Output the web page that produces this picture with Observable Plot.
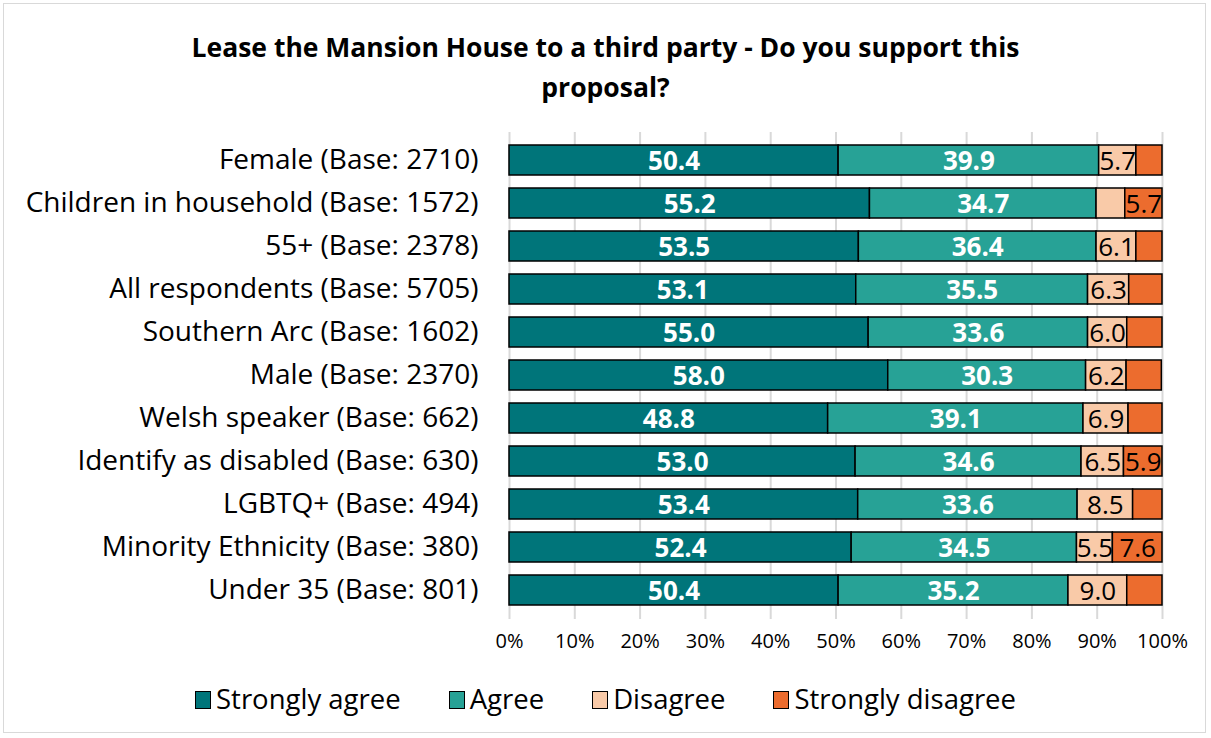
<!DOCTYPE html>
<html><head><meta charset="utf-8">
<script src="https://cdn.jsdelivr.net/npm/d3@7"></script>
<script src="https://cdn.jsdelivr.net/npm/@observablehq/plot@0.6"></script>
<style>
body{margin:0;background:#fff;font-family:"Open Sans",sans-serif;}
#frame{position:absolute;left:3px;top:3px;width:1203px;height:730px;border:1px solid #d9d9d9;box-sizing:border-box;}
#title{position:absolute;left:0;top:27px;width:1211px;text-align:center;font-weight:bold;font-size:26.5px;line-height:40px;color:#000;}
#chart{position:absolute;left:0;top:120px;}
#legend{position:absolute;left:0;top:680px;width:1211px;text-align:center;font-size:27.5px;color:#000;}
#legend span.item{margin:0 24px;white-space:nowrap;}
#legend span.sw{display:inline-block;width:14px;height:16px;border:1.5px solid #000;margin-right:5px;vertical-align:0px;}
</style></head>
<body>
<div id="frame"></div>
<div id="title">Lease the Mansion House to a third party - Do you support this<br>proposal?</div>
<div id="chart"></div>
<div id="legend"></div>
<script>
const groups = [
  "Female (Base: 2710)",
  "Children in household (Base: 1572)",
  "55+ (Base: 2378)",
  "All respondents (Base: 5705)",
  "Southern Arc (Base: 1602)",
  "Male (Base: 2370)",
  "Welsh speaker (Base: 662)",
  "Identify as disabled (Base: 630)",
  "LGBTQ+ (Base: 494)",
  "Minority Ethnicity (Base: 380)",
  "Under 35 (Base: 801)"
];
const responses = ["Strongly agree", "Agree", "Disagree", "Strongly disagree"];
const colors = ["#00757A", "#27A296", "#F9CAA8", "#EC6C2E"];
const stronglyAgree    = [50.4, 55.2, 53.5, 53.1, 55.0, 58.0, 48.8, 53.0, 53.4, 52.4, 50.4];
const agree            = [39.9, 34.7, 36.4, 35.5, 33.6, 30.3, 39.1, 34.6, 33.6, 34.5, 35.2];
const disagree         = [5.7, 4.4, 6.1, 6.3, 6.0, 6.2, 6.9, 6.5, 8.5, 5.5, 9.0];
const stronglyDisagree = [4.0, 5.7, 4.0, 5.1, 5.4, 5.4, 5.2, 5.9, 4.5, 7.6, 5.4];
const xTicks = [0,10,20,30,40,50,60,70,80,90,100];

const series = [stronglyAgree, agree, disagree, stronglyDisagree];
const data = [];
groups.forEach((g, i) => responses.forEach((r, j) => data.push({group: g, response: r, value: series[j][i]})));

const labelShown = d => d.value >= 5.5;
const isAgree = d => d.response === "Strongly agree" || d.response === "Agree";

const font = "'Open Sans', sans-serif";
const chart = Plot.plot({
  width: 1211,
  height: 540,
  marginLeft: 509,
  marginRight: 49,
  marginTop: 12,
  marginBottom: 41,
  style: {fontFamily: font, background: "transparent"},
  x: {domain: [0, 100], ticks: xTicks, tickFormat: d => d + "%", label: null},
  y: {domain: groups, padding: 0.3, label: null},
  color: {domain: responses, range: colors},
  marks: [
    Plot.gridX(xTicks, {stroke: "#d9d9d9", strokeOpacity: 1, strokeWidth: 2}),
    Plot.barX(data, Plot.stackX({x: "value", y: "group", fill: "response", z: "response", order: responses, stroke: "#000", strokeWidth: 1.5})),
    Plot.text(data, Plot.stackX({
      x: "value", y: "group", z: "response", order: responses,
      text: d => (labelShown(d) && isAgree(d)) ? d.value.toFixed(1) : "",
      fill: "#fff", fontWeight: "bold", fontSize: 26, dy: 1
    })),
    Plot.text(data, Plot.stackX({
      x: "value", y: "group", z: "response", order: responses,
      text: d => (labelShown(d) && !isAgree(d)) ? d.value.toFixed(1) : "",
      fill: "#000", fontSize: 26, dy: 1
    })),
    Plot.axisX(xTicks, {tickSize: 0, tickPadding: 14, fontSize: 20, tickFormat: d => d + "%", label: null}),
    Plot.axisY({tickSize: 0, tickPadding: 31, fontSize: 28, label: null})
  ]
});
document.getElementById("chart").appendChild(chart);

const legend = document.getElementById("legend");
responses.forEach((r, j) => {
  const item = document.createElement("span");
  item.className = "item";
  const sw = document.createElement("span");
  sw.className = "sw";
  sw.style.background = colors[j];
  item.appendChild(sw);
  item.appendChild(document.createTextNode(r));
  legend.appendChild(item);
});
</script>
</body></html>
